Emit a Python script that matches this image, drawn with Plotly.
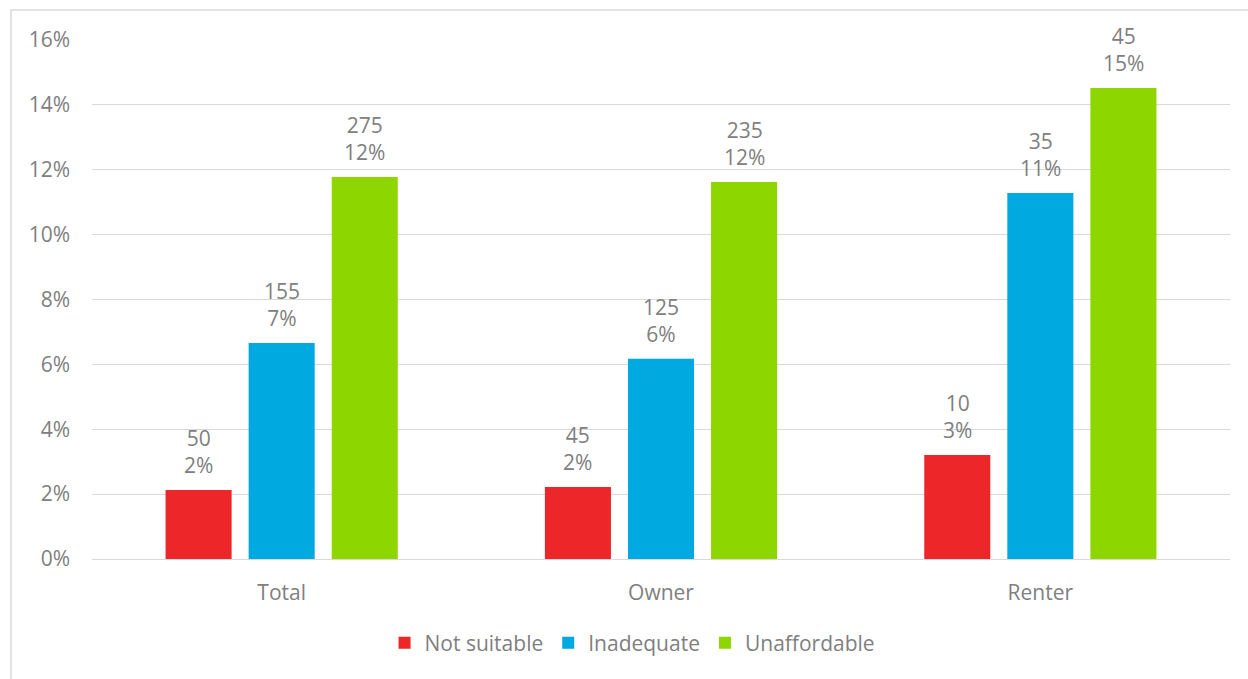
import plotly.graph_objects as go

categories = ["Total", "Owner", "Renter"]
series_names = ["Not suitable", "Inadequate", "Unaffordable"]
share_not_suitable = [0.0213, 0.0222, 0.0321]
share_inadequate = [0.0666, 0.0617, 0.1128]
share_unaffordable = [0.1178, 0.1162, 0.1452]
count_not_suitable = [50, 45, 10]
count_inadequate = [155, 125, 35]
count_unaffordable = [275, 235, 45]
y_ticks = [0, 0.02, 0.04, 0.06, 0.08, 0.10, 0.12, 0.14, 0.16]

colors = ["#EC2629", "#00A9E0", "#8DD600"]
FONT = "Open Sans"
GRAY = "#808080"
FS = 21

W, H = 1248, 679
ML, MR, MT, MB = 92, 18, 40, 120
BARGAP = 0.343

shares = [share_not_suitable, share_inadequate, share_unaffordable]
counts = [count_not_suitable, count_inadequate, count_unaffordable]

fig = go.Figure()
for name, s, col in zip(series_names, shares, colors):
    fig.add_trace(go.Bar(
        x=categories, y=s, name=name, marker_color=col,
        marker_line_width=0,
    ))

# data labels (count + share) above each bar
plot_w = W - ML - MR
pitch = plot_w / len(categories) * (1 - BARGAP) / len(series_names)
for i, (s, c) in enumerate(zip(shares, counts)):
    for cat, v, cc in zip(categories, s, c):
        fig.add_annotation(
            x=cat, y=v, text=f"{cc}<br>{v*100:.0f}%",
            showarrow=False, yanchor="bottom", xanchor="center",
            xshift=(i - 1) * pitch, yshift=9,
            font=dict(family=FONT, size=FS, color=GRAY),
        )

fig.update_layout(
    width=W, height=H,
    margin=dict(l=ML, r=MR, t=MT, b=MB),
    barmode="group", bargap=BARGAP, bargroupgap=0.205,
    plot_bgcolor="white", paper_bgcolor="white",
    font=dict(family=FONT, size=FS, color=GRAY),
    legend=dict(orientation="h", x=0.475, xanchor="center", y=-0.162, yanchor="middle",
                font=dict(family=FONT, size=FS, color=GRAY), itemwidth=30,
                traceorder="normal"),
    showlegend=True,
)
fig.update_xaxes(showline=False, ticks="", ticklabelstandoff=19,
                 tickfont=dict(family=FONT, size=FS, color=GRAY))
fig.update_yaxes(range=[0, 0.16], tickvals=y_ticks, tickformat=".0%",
                 showgrid=True, gridcolor="#D9D9D9", gridwidth=1.2,
                 zeroline=True, zerolinecolor="#D9D9D9", zerolinewidth=1.2,
                 ticks="", ticklabelstandoff=21,
                 tickfont=dict(family=FONT, size=FS, color=GRAY))
fig.add_shape(type="rect", xref="paper", yref="paper",
              x0=-0.0712, x1=1.02, y0=-0.25, y1=1.0578,
              line=dict(color="#D9D9D9", width=1.5), fillcolor="rgba(0,0,0,0)", layer="below")

fig.write_html("out.html")
